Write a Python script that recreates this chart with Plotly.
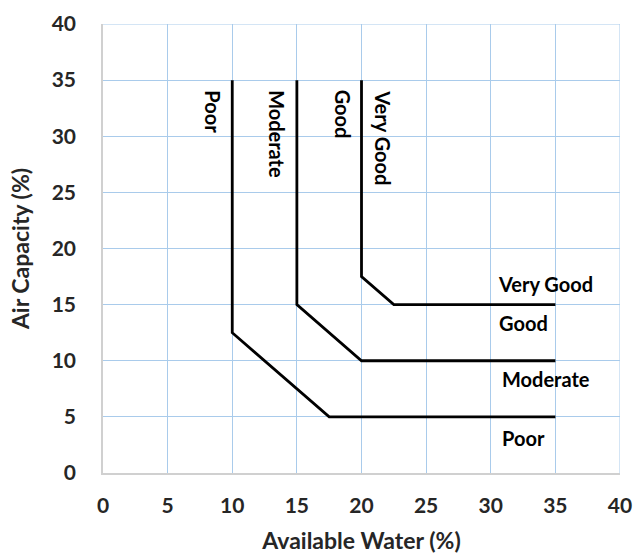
import plotly.graph_objects as go

# Boundary lines (Available Water %, Air Capacity %)
poor_x = [10, 10, 17.5, 35]
poor_y = [35, 12.5, 5, 5]
moderate_x = [15, 15, 20, 35]
moderate_y = [35, 15, 10, 10]
verygood_x = [20, 20, 22.5, 35]
verygood_y = [35, 17.5, 15, 15]

# Vertical labels (rotated) and horizontal labels
vlabels = ["Poor", "Moderate", "Good", "Very Good"]
vlabel_x = [8.45, 13.45, 18.55, 21.6]
vlabel_y = [34.3, 34.3, 34.3, 34.3]
hlabels = ["Very Good", "Good", "Moderate", "Poor"]
hlabel_x = [34.2, 32.5, 34.3, 32.5]
hlabel_y = [16.85, 13.35, 8.4, 3.15]

FONT = "Lato"

fig = go.Figure()
for xs, ys in [(poor_x, poor_y), (moderate_x, moderate_y), (verygood_x, verygood_y)]:
    fig.add_trace(go.Scatter(x=xs, y=ys, mode="lines",
                             line=dict(color="black", width=2.8),
                             showlegend=False, hoverinfo="skip"))

for t, x, y in zip(vlabels, vlabel_x, vlabel_y):
    fig.add_annotation(x=x, y=y, text="<b>%s</b>" % t, textangle=90, showarrow=False,
                       xanchor="center", yanchor="top",
                       font=dict(family=FONT, size=20, color="black"))
for t, x, y in zip(hlabels, hlabel_x, hlabel_y):
    fig.add_annotation(x=x, y=y, text="<b>%s</b>" % t, showarrow=False,
                       xanchor="center", yanchor="middle",
                       font=dict(family=FONT, size=20, color="black"))

grid = "#a9cbeb"
fig.update_layout(
    width=634, height=554,
    margin=dict(l=103, r=14, t=24, b=81, autoexpand=False),
    plot_bgcolor="white", paper_bgcolor="white",
    font=dict(family=FONT, color="#262626"),
    xaxis=dict(range=[0, 40], tickvals=list(range(0, 45, 5)),
               ticktext=["<b>%d</b>" % v for v in range(0, 45, 5)],
               showgrid=True, gridcolor=grid, gridwidth=1, automargin=False,
               zeroline=False, showline=True, linecolor="#d0d0d0", linewidth=1.5,
               ticks="", ticklabelstandoff=13, tickfont=dict(size=21, family=FONT),
               title=dict(text="<b>Available Water (%)</b>", standoff=18,
                          font=dict(size=23, family=FONT))),
    yaxis=dict(range=[0, 40], tickvals=list(range(0, 45, 5)),
               ticktext=["<b>%d</b>" % v for v in range(0, 45, 5)],
               showgrid=True, gridcolor=grid, gridwidth=1, automargin=False,
               zeroline=False, showline=True, linecolor="#d0d0d0", linewidth=1.5,
               ticks="", ticklabelstandoff=21, tickfont=dict(size=21, family=FONT),
               title=dict(text="<b>Air Capacity (%)</b>", standoff=16,
                          font=dict(size=23, family=FONT))),
)
fig.add_shape(type="line", x0=40, x1=40, y0=0, y1=40, xref="x", yref="y",
              line=dict(color=grid, width=1), layer="below")
fig.add_shape(type="line", x0=0, x1=40, y0=40, y1=40, xref="x", yref="y",
              line=dict(color=grid, width=1), layer="below")

fig.write_html("out.html", config={"displayModeBar": False},
               post_script="document.body.style.margin='0';document.body.style.overflow='hidden';")
